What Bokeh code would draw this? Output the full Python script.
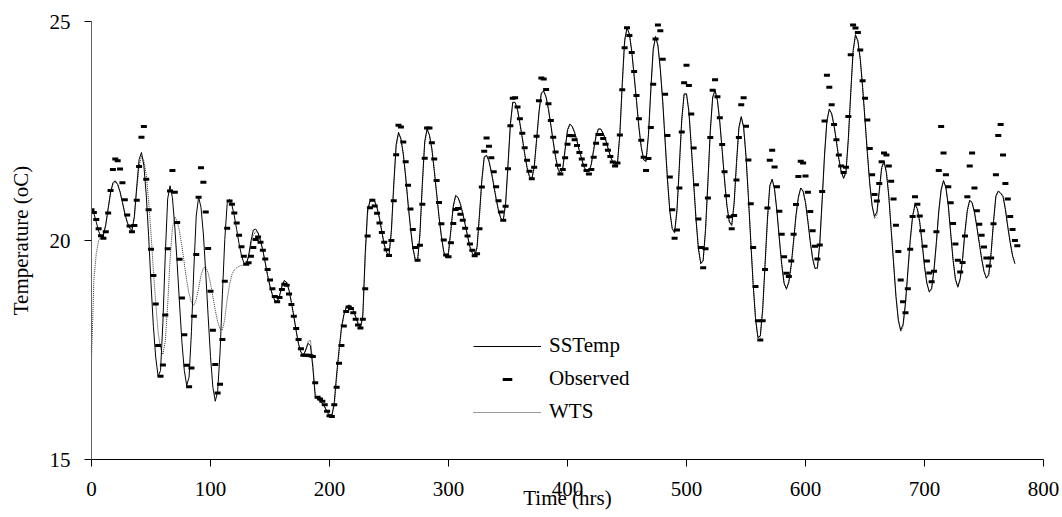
from bokeh.plotting import figure
from bokeh.models import FixedTicker, Legend, LegendItem, ColumnDataSource
from bokeh.embed import file_html
from bokeh.resources import INLINE

# ---------------- data ----------------
# SSTemp model, every 2 hours from t = 0 h
sstemp = [
    20.69, 20.62, 20.42, 20.21, 20.09, 20.13, 20.36, 20.73, 21.09, 21.32,
    21.36, 21.28, 21.11, 20.87, 20.62, 20.42, 20.28, 20.23, 20.55, 21.23,
    21.85, 22.01, 21.71, 21.04, 20.11, 19.02, 18.04, 17.32, 16.90, 17.03,
    18.13, 19.67, 20.95, 21.25, 20.98, 20.31, 19.47, 18.55, 17.67, 17.03,
    16.69, 16.88, 17.92, 19.35, 20.56, 20.99, 20.76, 20.15, 19.26, 18.28,
    17.35, 16.65, 16.33, 16.55, 17.43, 18.77, 20.02, 20.84, 20.94, 20.81,
    20.56, 20.25, 19.93, 19.66, 19.49, 19.46, 19.65, 19.99, 20.24, 20.26,
    20.17, 19.99, 19.77, 19.49, 19.20, 18.95, 18.76, 18.63, 18.60, 18.74,
    18.96, 19.09, 19.04, 18.86, 18.58, 18.27, 17.93, 17.63, 17.45, 17.38,
    17.50, 17.65, 17.60, 17.10, 16.44, 16.38, 16.33, 16.28, 16.20, 16.08,
    16.01, 16.00, 16.30, 16.95, 17.50, 18.00, 18.30, 18.47, 18.52, 18.50,
    18.40, 18.25, 18.10, 18.00, 18.30, 19.70, 20.70, 20.90, 20.95, 20.89,
    20.74, 20.50, 20.19, 19.90, 19.72, 19.66, 20.24, 21.29, 22.19, 22.47,
    22.32, 21.97, 21.45, 20.84, 20.30, 19.83, 19.57, 19.53, 20.17, 21.30,
    22.26, 22.55, 22.40, 22.09, 21.60, 21.07, 20.54, 20.09, 19.74, 19.60,
    19.73, 20.25, 20.79, 21.03, 20.98, 20.83, 20.61, 20.36, 20.10, 19.85,
    19.71, 19.64, 19.86, 20.59, 21.38, 21.91, 21.94, 21.81, 21.56, 21.26,
    20.95, 20.68, 20.50, 20.46, 20.86, 21.74, 22.67, 23.16, 23.15, 22.98,
    22.67, 22.34, 21.98, 21.66, 21.46, 21.41, 21.68, 22.30, 22.93, 23.37,
    23.41, 23.27, 22.99, 22.63, 22.25, 21.90, 21.63, 21.52, 21.65, 22.09,
    22.53, 22.66, 22.60, 22.46, 22.26, 22.04, 21.85, 21.67, 21.58, 21.57,
    21.75, 22.08, 22.39, 22.55, 22.54, 22.44, 22.30, 22.11, 21.92, 21.79,
    21.71, 21.77, 22.45, 23.59, 24.57, 24.86, 24.71, 24.31, 23.75, 23.17,
    22.58, 22.12, 21.84, 21.81, 22.41, 23.45, 24.37, 24.66, 24.44, 23.90,
    23.17, 22.27, 21.38, 20.66, 20.27, 20.18, 20.71, 21.72, 22.77, 23.35,
    23.34, 22.94, 22.14, 21.31, 20.47, 19.81, 19.47, 19.55, 20.26, 21.35,
    22.52, 23.28, 23.43, 23.19, 22.69, 22.04, 21.36, 20.78, 20.42, 20.35,
    20.85, 21.78, 22.58, 22.83, 22.58, 21.91, 20.99, 19.97, 19.00, 18.21,
    17.78, 17.82, 18.43, 19.46, 20.49, 21.26, 21.40, 21.16, 20.66, 20.03,
    19.45, 19.02, 18.90, 19.06, 19.45, 20.00, 20.58, 20.99, 21.20, 21.12,
    20.86, 20.43, 19.97, 19.58, 19.36, 19.38, 19.95, 20.94, 21.97, 22.74,
    23.00, 22.89, 22.62, 22.25, 21.86, 21.57, 21.42, 21.57, 22.33, 23.38,
    24.34, 24.70, 24.55, 24.14, 23.49, 22.74, 21.98, 21.29, 20.79, 20.55,
    20.65, 21.15, 21.67, 21.80, 21.54, 21.01, 20.23, 19.49, 18.72, 18.18,
    17.95, 18.09, 18.58, 19.30, 20.02, 20.56, 20.82, 20.72, 20.41, 19.94,
    19.40, 19.02, 18.83, 18.91, 19.35, 19.97, 20.68, 21.17, 21.37, 21.20,
    20.79, 20.16, 19.55, 19.11, 18.94, 19.13, 19.59, 20.21, 20.70, 20.92,
    20.86, 20.64, 20.30, 19.94, 19.58, 19.29, 19.14, 19.23, 19.73, 20.45,
    21.02, 21.13, 21.08, 21.00, 20.70, 20.30, 19.95, 19.65, 19.47,
]

# WTS model, every 2 hours from t = 0 h
wts = [
    17.27, 19.10, 19.70, 20.00, 20.08, 20.12, 20.36, 20.73, 21.09, 21.28,
    21.33, 21.28, 21.11, 20.87, 20.62, 20.42, 20.28, 20.23, 20.50, 21.15,
    21.70, 21.93, 21.82, 21.51, 20.90, 20.17, 19.31, 18.58, 17.90, 17.54,
    17.40, 17.70, 18.53, 19.54, 20.29, 20.54, 20.44, 20.20, 19.87, 19.47,
    19.09, 18.78, 18.58, 18.52, 18.65, 18.91, 19.20, 19.37, 19.39, 19.26,
    19.02, 18.72, 18.41, 18.15, 17.98, 17.96, 18.20, 18.65, 19.00, 19.22,
    19.33, 19.38, 19.41, 19.43, 19.45, 19.47, 19.60, 19.90, 20.12, 20.20,
    20.18, 20.00, 19.78, 19.50, 19.21, 18.96, 18.77, 18.64, 18.60, 18.72,
    18.93, 19.07, 19.05, 18.88, 18.60, 18.29, 17.95, 17.65, 17.46, 17.40,
    17.48, 17.70, 17.72, 17.20, 16.50, 16.40, 16.34, 16.29, 16.21, 16.10,
    16.03, 16.01, 16.22, 16.85, 17.42, 17.95, 18.28, 18.46, 18.53, 18.51,
    18.42, 18.27, 18.12, 18.02, 18.22, 19.55, 20.62, 20.88, 20.94, 20.90,
    20.76, 20.53, 20.22, 19.93, 19.74, 19.66, 20.15, 21.20, 22.12, 22.44,
    22.34, 22.00, 21.49, 20.88, 20.34, 19.86, 19.59, 19.53, 20.10, 21.21,
    22.20, 22.52, 22.42, 22.12, 21.64, 21.11, 20.58, 20.12, 19.76, 19.61,
    19.70, 20.20, 20.74, 21.01, 20.99, 20.85, 20.63, 20.38, 20.12, 19.87,
    19.72, 19.64, 19.82, 20.52, 21.32, 21.88, 21.95, 21.83, 21.59, 21.29,
    20.98, 20.70, 20.52, 20.46, 20.80, 21.66, 22.60, 23.13, 23.16, 23.00,
    22.70, 22.37, 22.01, 21.69, 21.48, 21.41, 21.63, 22.24, 22.88, 23.34,
    23.42, 23.29, 23.02, 22.66, 22.28, 21.93, 21.65, 21.53, 21.62, 22.04,
    22.49, 22.65, 22.61, 22.48, 22.28, 22.06, 21.87, 21.69, 21.59, 21.57,
    21.72, 22.04, 22.36, 22.54, 22.55, 22.46, 22.32, 22.13, 21.94, 21.80,
    21.72, 21.75, 22.38, 23.50, 24.50, 24.84, 24.73, 24.35, 23.80, 23.22,
    22.63, 22.15, 21.86, 21.80, 22.35, 23.37, 24.30, 24.64, 24.47, 23.95,
    23.23, 22.33, 21.44, 20.70, 20.28, 20.17, 20.64, 21.65, 22.70, 23.32,
    23.36, 22.98, 22.20, 21.37, 20.52, 19.85, 19.48, 19.52, 20.20, 21.27,
    22.45, 23.24, 23.43, 23.22, 22.73, 22.09, 21.41, 20.82, 20.44, 20.34,
    20.80, 21.70, 22.52, 22.82, 22.61, 21.96, 21.05, 20.03, 19.05, 18.25,
    17.80, 17.79, 18.37, 19.38, 20.42, 21.21, 21.40, 21.19, 20.70, 20.08,
    19.49, 19.04, 18.88, 19.03, 19.40, 19.95, 20.53, 20.96, 21.20, 21.14,
    20.89, 20.47, 20.01, 19.61, 19.37, 19.35, 19.88, 20.86, 21.90, 22.70,
    22.99, 22.91, 22.65, 22.29, 21.89, 21.59, 21.42, 21.53, 22.26, 23.30,
    24.27, 24.68, 24.58, 24.18, 23.54, 22.79, 22.03, 21.33, 20.80, 20.50,
    20.58, 21.08, 21.62, 21.81, 21.58, 21.05, 20.28, 19.52, 18.76, 18.20,
    17.92, 18.03, 18.52, 19.24, 19.96, 20.52, 20.81, 20.74, 20.44, 19.98,
    19.44, 19.04, 18.82, 18.87, 19.29, 19.91, 20.62, 21.13, 21.36, 21.23,
    20.83, 20.20, 19.59, 19.13, 18.93, 19.09, 19.54, 20.15, 20.66, 20.91,
    20.88, 20.67, 20.34, 19.98, 19.61, 19.31, 19.14, 19.20, 19.68, 20.39,
    20.98, 21.12, 21.09, 21.02, 20.74, 20.34, 19.98, 19.67, 19.48,
]

# Observed water temperature, every 2 hours from t = 0 h
observed = [
    20.70, 20.64, 20.48, 20.27, 20.11, 20.05, 20.20, 20.63, 21.14, 21.62,
    21.86, 21.82, 21.63, 21.32, 20.93, 20.58, 20.33, 20.20, 20.34, 20.92,
    21.69, 22.36, 22.60, 21.40, 20.70, 19.80, 19.20, 18.55, 17.60, 16.90,
    17.16, 18.30, 19.81, 21.13, 21.60, 21.10, 20.41, 19.57, 18.69, 17.85,
    17.15, 16.66, 17.09, 18.27, 19.68, 20.99, 21.66, 21.33, 20.65, 19.82,
    18.84, 17.95, 17.17, 16.52, 16.72, 17.74, 19.07, 20.28, 20.90, 20.83,
    20.63, 20.40, 20.12, 19.86, 19.64, 19.46, 19.49, 19.64, 19.84, 20.02,
    20.08, 19.96, 19.78, 19.58, 19.34, 19.10, 18.90, 18.72, 18.60, 18.70,
    18.88, 19.00, 18.98, 18.78, 18.54, 18.27, 17.99, 17.74, 17.53, 17.38,
    17.38, 17.38, 17.37, 17.35, 16.75, 16.42, 16.38, 16.33, 16.25, 16.10,
    16.00, 15.98, 16.25, 16.65, 17.20, 17.60, 18.05, 18.38, 18.48, 18.45,
    18.35, 18.20, 18.07, 18.00, 18.20, 18.90, 20.10, 20.75, 20.92, 20.79,
    20.62, 20.40, 20.18, 19.96, 19.79, 19.66, 20.00, 20.91, 21.96, 22.63,
    22.59, 22.25, 21.80, 21.26, 20.72, 20.25, 19.84, 19.55, 19.89, 20.83,
    21.88, 22.57, 22.57, 22.23, 21.86, 21.37, 20.87, 20.38, 20.01, 19.67,
    19.63, 19.95, 20.39, 20.71, 20.73, 20.60, 20.46, 20.28, 20.10, 19.92,
    19.78, 19.65, 19.70, 20.27, 21.22, 22.04, 22.34, 22.15, 21.89, 21.57,
    21.23, 20.91, 20.65, 20.46, 20.78, 21.64, 22.62, 23.25, 23.26, 23.05,
    22.78, 22.45, 22.12, 21.83, 21.58, 21.41, 21.67, 22.38, 23.19, 23.71,
    23.69, 23.45, 23.12, 22.74, 22.36, 22.02, 21.72, 21.52, 21.62, 21.89,
    22.20, 22.40, 22.39, 22.30, 22.17, 22.01, 21.86, 21.72, 21.60, 21.52,
    21.62, 21.90, 22.22, 22.42, 22.42, 22.33, 22.20, 22.06, 21.92, 21.79,
    21.70, 21.77, 22.41, 23.44, 24.40, 24.86, 24.68, 24.29, 23.86, 23.31,
    22.78, 22.29, 21.90, 21.60, 21.87, 22.58, 23.57, 24.60, 24.92, 24.79,
    24.14, 23.34, 22.40, 21.45, 20.70, 20.05, 20.24, 21.20, 22.48, 23.60,
    24.00, 23.54, 22.89, 22.11, 21.27, 20.49, 19.84, 19.38, 19.81, 20.97,
    22.35, 23.43, 23.67, 23.28, 22.80, 22.19, 21.57, 21.02, 20.54, 20.27,
    20.57, 21.38, 22.35, 23.10, 23.26, 22.61, 21.84, 20.84, 19.84, 18.95,
    18.17, 17.73, 18.17, 19.34, 20.74, 21.83, 22.06, 21.68, 21.23, 20.67,
    20.14, 19.63, 19.25, 19.18, 19.53, 20.14, 20.82, 21.46, 21.81, 21.77,
    21.47, 21.10, 20.66, 20.22, 19.87, 19.58, 19.90, 21.12, 22.73, 23.77,
    23.50, 23.10, 22.65, 22.30, 21.95, 21.70, 21.55, 21.67, 22.83, 24.24,
    24.92, 24.85, 24.75, 24.35, 23.65, 23.25, 22.75, 22.10, 21.50, 21.05,
    20.90, 21.30, 21.80, 22.00, 21.95, 21.70, 21.35, 20.95, 20.35, 19.75,
    19.10, 18.60, 18.35, 18.90, 19.80, 20.55, 21.00, 20.83, 20.56, 20.22,
    19.87, 19.53, 19.26, 19.06, 19.30, 20.20, 21.60, 22.60, 22.00, 21.50,
    21.23, 20.86, 20.39, 19.92, 19.55, 19.28, 19.50, 20.10, 21.00, 21.70,
    22.00, 21.20, 20.68, 20.37, 20.12, 19.85, 19.60, 19.42, 19.60, 20.38,
    21.50, 22.40, 22.65, 21.95, 21.30, 20.95, 20.55, 20.25, 20.00, 19.88,
]

STEP_HRS = 2
x_ticks = [0, 100, 200, 300, 400, 500, 600, 700, 800]
y_ticks = [15, 20, 25]
series_labels = ["SSTemp", "Observed", "WTS"]
x_title = "Time (hrs)"
y_title = "Temperature (oC)"

# ---------------- figure ----------------
FONT = "Liberation Serif"

src_ss = ColumnDataSource(dict(t=[i * STEP_HRS for i in range(len(sstemp))], v=sstemp))
src_wts = ColumnDataSource(dict(t=[i * STEP_HRS for i in range(len(wts))], v=wts))
src_obs = ColumnDataSource(dict(t=[i * STEP_HRS for i in range(len(observed))], v=observed))

p = figure(width=1060, height=517, x_range=(0, 800), y_range=(15, 25),
           output_backend="svg", toolbar_location=None,
           min_border_left=91, min_border_right=17,
           min_border_top=21, min_border_bottom=58)
p.outline_line_color = None
p.grid.visible = False
p.background_fill_color = "white"
p.border_fill_color = "white"

r_wts = p.line("t", "v", source=src_wts, line_color="#333333", line_width=1,
               line_dash="1 1")
r_ss = p.line("t", "v", source=src_ss, line_color="black", line_width=1)
r_obs = p.scatter("t", "v", source=src_obs, marker="dash", size=6,
                  line_width=3, line_color="black")

for ax, ticks in ((p.xaxis, x_ticks), (p.yaxis, y_ticks)):
    ax.ticker = FixedTicker(ticks=ticks)
    ax.major_tick_out = 7
    ax.major_tick_in = 0
    ax.minor_tick_out = 0
    ax.minor_tick_in = 0
    ax.major_tick_line_color = "black"
    ax.major_label_text_font = FONT
    ax.major_label_text_font_size = "21px"
    ax.major_label_text_color = "black"
    ax.axis_label_text_font = FONT
    ax.axis_label_text_font_size = "21px"
    ax.axis_label_text_font_style = "normal"
    ax.axis_label_text_color = "black"

p.xaxis.axis_line_color = "black"
p.yaxis.axis_line_color = "#666666"
p.xaxis.axis_label = x_title
p.yaxis.axis_label = y_title
p.xaxis.major_label_standoff = 15
p.xaxis.axis_label_standoff = -13
p.yaxis.major_label_standoff = 14
p.yaxis.axis_label_standoff = 14

legend = Legend(items=[
    LegendItem(label=series_labels[0], renderers=[r_ss]),
    LegendItem(label=series_labels[1], renderers=[r_obs]),
    LegendItem(label=series_labels[2], renderers=[r_wts]),
], location=(382, 35))
legend.border_line_alpha = 0
legend.background_fill_alpha = 0
legend.padding = 0
legend.margin = 0
legend.glyph_width = 68
legend.glyph_height = 24
legend.label_height = 24
legend.spacing = 8
legend.label_standoff = 8
legend.label_text_font = FONT
legend.label_text_font_size = "21px"
legend.label_text_color = "black"
p.add_layout(legend)

open("out.html", "w").write(file_html(p, INLINE))
